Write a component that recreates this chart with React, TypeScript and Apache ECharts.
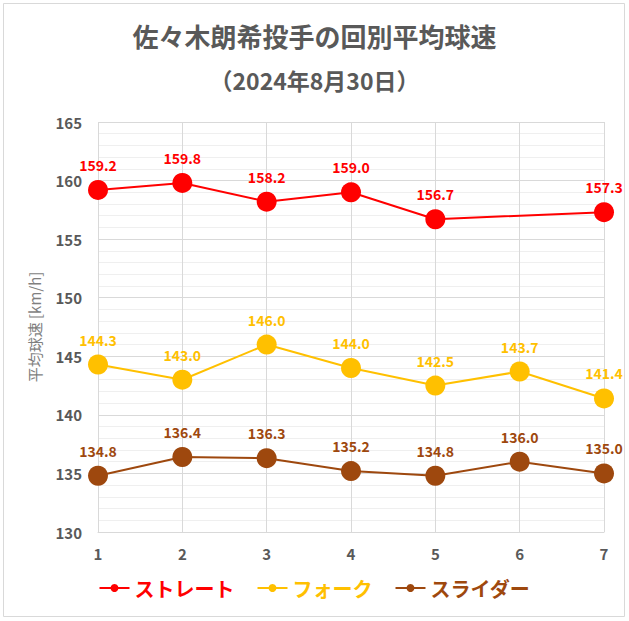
import React, { useEffect, useRef } from "react";
import * as echarts from "echarts";

const innings = ["1", "2", "3", "4", "5", "6", "7"];
const straight = [159.2, 159.8, 158.2, 159.0, 156.7, null, 157.3];
const fork = [144.3, 143.0, 146.0, 144.0, 142.5, 143.7, 141.4];
const slider = [134.8, 136.4, 136.3, 135.2, 134.8, 136.0, 135.0];
const seriesNames = ["ストレート", "フォーク", "スライダー"];
const colors = ["#ff0000", "#ffc000", "#9e480e"];

const FONT = "'Noto Sans CJK JP', 'Noto Sans', sans-serif";

export default function App() {
  const ref = useRef<HTMLDivElement>(null);
  useEffect(() => {
    if (!ref.current) return;
    const chart = echarts.init(ref.current, undefined, { renderer: "svg" });
    const mk = (name: string, data: (number | null)[], color: string) => ({
      name,
      type: "line",
      data,
      connectNulls: true,
      symbol: "circle",
      symbolSize: 20,
      itemStyle: { color },
      lineStyle: { color, width: 2 },
      label: {
        show: true,
        position: "top",
        distance: 8,
        color,
        fontWeight: "bold",
        fontSize: 14,
        fontFamily: FONT,
        formatter: (p: any) => Number(p.value).toFixed(1),
      },
    });
    chart.setOption({
      animation: false,
      backgroundColor: "#fff",
      textStyle: { fontFamily: FONT },
      title: [
        {
          text: "佐々木朗希投手の回別平均球速",
          left: "center",
          top: 17,
          textStyle: { fontSize: 26, fontWeight: "bold", color: "#595959", fontFamily: FONT },
        },
        {
          text: "（2024年8月30日）",
          left: "center",
          top: 63,
          textStyle: { fontSize: 23, fontWeight: "bold", color: "#595959", fontFamily: FONT },
        },
      ],
      graphic: [
        {
          type: "rect",
          shape: { x: 3.5, y: 3.5, width: 621, height: 613 },
          style: { fill: "none", stroke: "#d9d9d9", lineWidth: 1 },
          silent: true,
        },
      ],
      legend: {
        bottom: 18,
        left: "center",
        itemWidth: 30,
        itemHeight: 10,
        itemGap: 22,
        textStyle: { fontSize: 20, fontWeight: "bold", fontFamily: FONT },
        data: seriesNames.map((n, i) => ({ name: n, textStyle: { color: colors[i] } })),
      },
      grid: { left: 98, right: 25, top: 122, bottom: 89 },
      xAxis: {
        type: "category",
        data: innings,
        boundaryGap: false,
        axisLine: { show: true, lineStyle: { color: "#d9d9d9" } },
        axisTick: { show: false },
        splitLine: { show: true, lineStyle: { color: "#d9d9d9" } },
        axisLabel: { color: "#595959", fontWeight: "bold", fontSize: 15, margin: 14, fontFamily: FONT },
      },
      yAxis: {
        type: "value",
        min: 130,
        max: 165,
        interval: 5,
        name: "平均球速 [km/h]",
        nameLocation: "middle",
        nameGap: 56,
        nameTextStyle: { color: "#7f7f7f", fontSize: 15, fontFamily: FONT },
        axisLine: { show: false },
        axisTick: { show: false },
        axisLabel: { color: "#595959", fontWeight: "bold", fontSize: 15, margin: 16, fontFamily: FONT },
        splitLine: { show: true, lineStyle: { color: "#d9d9d9" } },
        minorTick: { show: false, splitNumber: 5 },
        minorSplitLine: { show: true, lineStyle: { color: "#efefef" } },
      },
      series: [
        mk(seriesNames[0], straight, colors[0]),
        mk(seriesNames[1], fork, colors[1]),
        mk(seriesNames[2], slider, colors[2]),
      ],
    });
    return () => chart.dispose();
  }, []);
  return (
    <div
      ref={ref}
      style={{ position: "fixed", left: 0, top: 0, width: 629, height: 621 }}
    />
  );
}
